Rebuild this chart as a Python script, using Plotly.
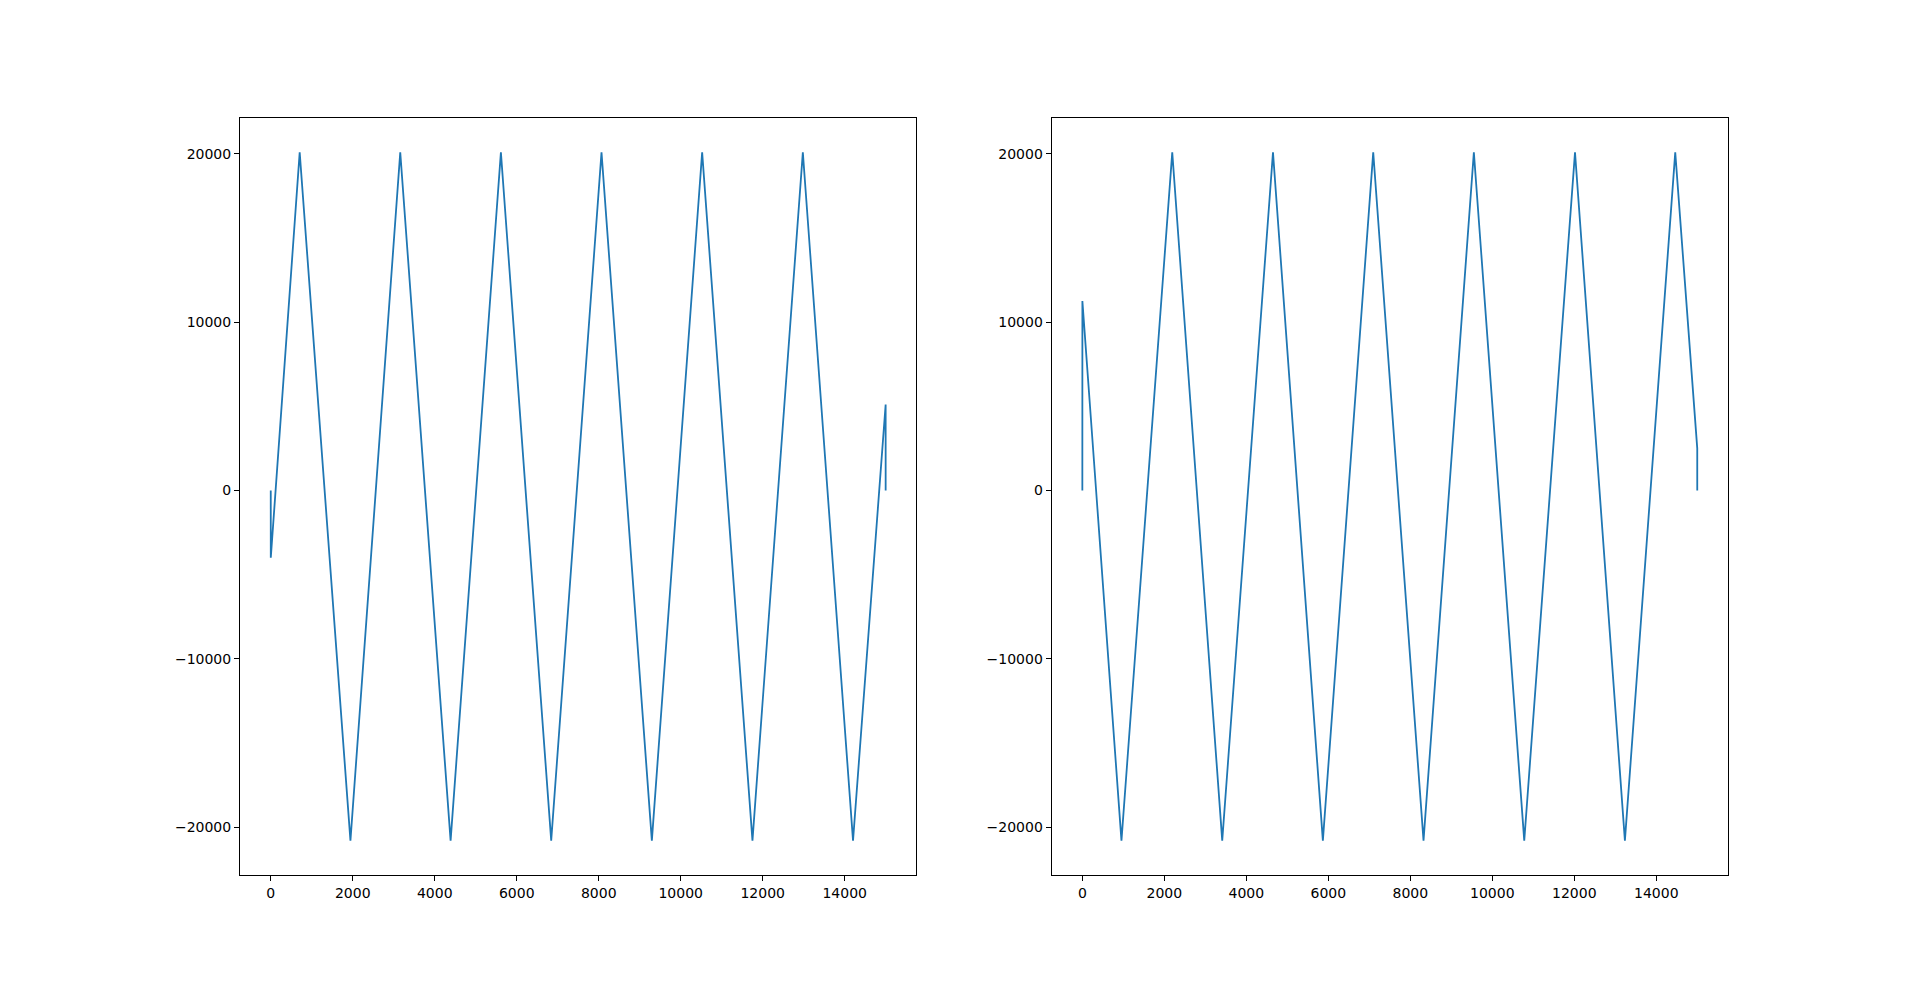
import plotly.graph_objects as go

# Left panel: vertices
left_x = [0, 1, 706, 1944, 3159, 4387, 5614, 6841, 8068, 9296, 10523, 11750, 12979, 14203, 14999, 14999]
left_y = [0, -4000, 20080, -20800, 20080, -20800, 20080, -20800, 20080, -20800, 20080, -20800, 20080, -20800, 5100, 0]

# Right panel
right_x = [0, 1, 954, 2193, 3412, 4650, 5867, 7095, 8322, 9550, 10779, 12017, 13234, 14462, 14999, 14999]
right_y = [0, 11250, -20800, 20080, -20800, 20080, -20800, 20080, -20800, 20080, -20800, 20080, -20800, 20080, 2500, 0]

x_ticks = [0, 2000, 4000, 6000, 8000, 10000, 12000, 14000]
y_ticks = [-20000, -10000, 0, 10000, 20000]

COLOR = "#1f77b4"
FONT = "DejaVu Sans"

# page body has an 8px default margin; size the figure to fit inside it
W, H, OFF = 1904, 967, 8


def mpl_range(vals):
    lo, hi = min(vals), max(vals)
    pad = 0.05 * (hi - lo)
    return [lo - pad, hi + pad]


def xdom(a, b):
    return [(a - OFF) / W, (b - OFF) / W]


def ydom(top, bottom):
    return [(H - (bottom - OFF)) / H, (H - (top - OFF)) / H]


fig = go.Figure()
fig.add_trace(go.Scatter(x=left_x, y=left_y, mode="lines",
                         line=dict(color=COLOR, width=1.8), xaxis="x", yaxis="y",
                         showlegend=False))
fig.add_trace(go.Scatter(x=right_x, y=right_y, mode="lines",
                         line=dict(color=COLOR, width=1.8), xaxis="x2", yaxis="y2",
                         showlegend=False))

axis_common = dict(
    showline=True, linecolor="black", linewidth=1, mirror=True,
    ticks="outside", ticklen=5, tickwidth=1, tickcolor="black",
    showgrid=False, zeroline=False, tickformat="d",
    tickfont=dict(family=FONT, size=14, color="black"),
)

fig.update_layout(
    width=W, height=H,
    margin=dict(l=0, r=0, t=0, b=0),
    paper_bgcolor="white", plot_bgcolor="white",
    xaxis=dict(domain=xdom(240, 916.4), range=mpl_range(left_x), tickvals=x_ticks,
               anchor="y", **axis_common),
    yaxis=dict(domain=ydom(118, 875), range=mpl_range(left_y), tickvals=y_ticks,
               anchor="x", **axis_common),
    xaxis2=dict(domain=xdom(1051.6, 1728), range=mpl_range(right_x), tickvals=x_ticks,
                anchor="y2", **axis_common),
    yaxis2=dict(domain=ydom(118, 875), range=mpl_range(right_y), tickvals=y_ticks,
                anchor="x2", **axis_common),
)

fig.write_html("out.html")
